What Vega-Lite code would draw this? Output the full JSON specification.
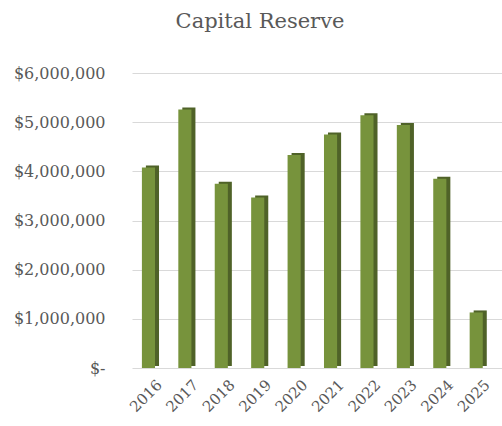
{
  "$schema": "https://vega.github.io/schema/vega-lite/v6.json",
  "autosize": {"type": "none"},
  "width": 370,
  "height": 295,
  "padding": {"left": 132, "top": 73, "right": 0, "bottom": 58},
  "background": "white",
  "view": {"stroke": null},
  "title": {
    "text": "Capital Reserve",
    "font": "DejaVu Serif",
    "fontSize": 21,
    "fontWeight": "normal",
    "color": "#595959",
    "anchor": "middle",
    "dx": -57,
    "offset": 33
  },
  "data": {
    "values": [
      {"year": "2016", "reserve": 4080000},
      {"year": "2017", "reserve": 5260000},
      {"year": "2018", "reserve": 3750000},
      {"year": "2019", "reserve": 3470000},
      {"year": "2020", "reserve": 4330000},
      {"year": "2021", "reserve": 4750000},
      {"year": "2022", "reserve": 5140000},
      {"year": "2023", "reserve": 4940000},
      {"year": "2024", "reserve": 3850000},
      {"year": "2025", "reserve": 1130000}
    ]
  },
  "encoding": {
    "x": {
      "field": "year",
      "type": "ordinal",
      "title": null,
      "scale": {"paddingInner": 0.64, "paddingOuter": 0.4, "align": 0.34},
      "axis": {
        "labelAngle": -45,
        "labelFont": "DejaVu Serif",
        "labelFontSize": 15,
        "labelColor": "#595959",
        "labelPadding": 9,
        "labelOffset": 6,
        "ticks": false,
        "domain": false
      }
    },
    "y": {
      "field": "reserve",
      "type": "quantitative",
      "title": null,
      "scale": {"domain": [0, 6000000]},
      "axis": {
        "values": [0, 1000000, 2000000, 3000000, 4000000, 5000000, 6000000],
        "labelExpr": "datum.value == 0 ? '$-' : '$' + format(datum.value, ',')",
        "labelFont": "DejaVu Serif",
        "labelFontSize": 16,
        "labelColor": "#595959",
        "labelPadding": 27,
        "ticks": false,
        "domain": false,
        "gridColor": "#d9d9d9",
        "gridWidth": 1
      }
    }
  },
  "layer": [
    {
      "mark": {"type": "bar", "color": "#4f6228", "xOffset": 4, "yOffset": -2}
    },
    {
      "mark": {"type": "bar", "color": "#77933c"}
    }
  ]
}
